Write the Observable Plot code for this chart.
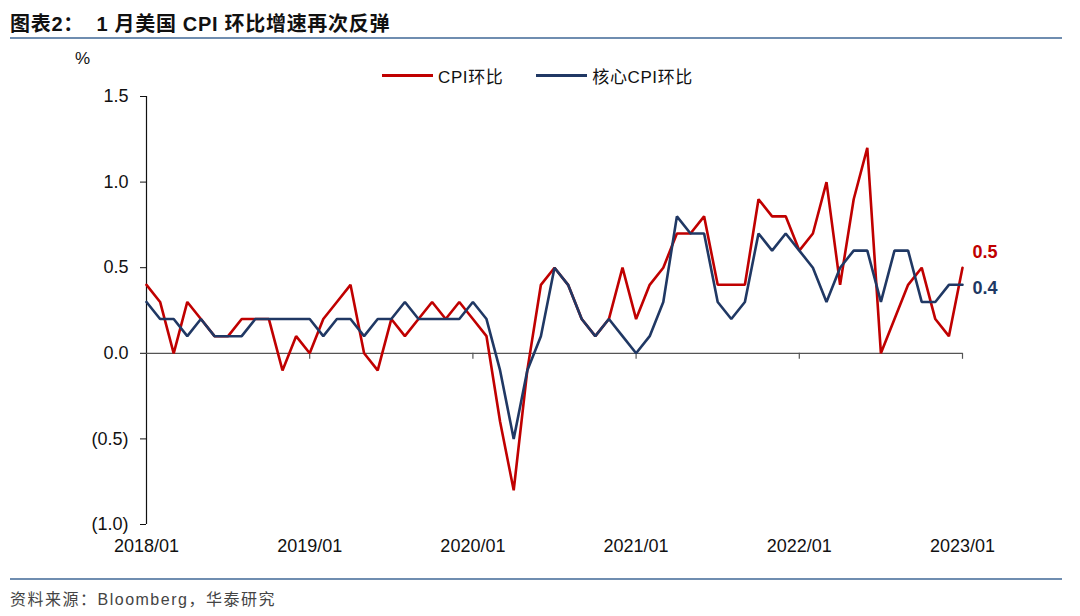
<!DOCTYPE html>
<html>
<head>
<meta charset="utf-8">
<script src="https://cdn.jsdelivr.net/npm/d3@7"></script>
<script src="https://cdn.jsdelivr.net/npm/@observablehq/plot@0.6"></script>
<style>
  html, body { margin: 0; padding: 0; background: #fff; }
  body { width: 1080px; height: 616px; position: relative; overflow: hidden;
         font-family: "Liberation Sans", Arial, "Noto Sans CJK SC", sans-serif; }
  #title { position: absolute; left: 10px; top: 8px; font-size: 20px; font-weight: bold; color: #111; letter-spacing: 0.7px;
           font-family: "Liberation Sans", "Noto Sans CJK SC", sans-serif; white-space: pre; }
  .rule { position: absolute; left: 10px; width: 1052px; height: 2px; background: #6f8db0; }
  #unit { position: absolute; left: 75px; top: 49px; font-size: 17px; color: #111; }
  #legend { position: absolute; top: 63px; left: 382px; font-size: 17px; color: #111; display: flex; align-items: center;
            letter-spacing: 0.6px; font-family: "Liberation Sans", "Noto Sans CJK SC", sans-serif; }
  .sw { display: inline-block; width: 51px; height: 3px; margin-right: 5px; }
  #caption { position: absolute; left: 10px; top: 586px; font-size: 16px; color: #444; letter-spacing: 1.5px;
             font-family: "Liberation Sans", "Noto Sans CJK SC", sans-serif; }
  #chart { position: absolute; left: 0; top: 0; }
</style>
</head>
<body>
<div id="chart"></div>
<div id="title">图表2：  1 月美国 CPI 环比增速再次反弹</div>
<div class="rule" style="top:37px"></div>
<div id="unit">%</div>
<div id="legend">
  <span class="sw" style="background:#c00000"></span><span>CPI环比</span>
  <span class="sw" style="background:#203864;margin-left:33px"></span><span>核心CPI环比</span>
</div>
<div class="rule" style="top:578px"></div>
<div id="caption">资料来源：Bloomberg，华泰研究</div>
<script>
// Monthly data, 2018/01 .. 2023/01
const cpiMoM = [
  0.4, 0.3, 0.0, 0.3, 0.2, 0.1, 0.1, 0.2, 0.2, 0.2, -0.1, 0.1,   // 2018
  0.0, 0.2, 0.3, 0.4, 0.0, -0.1, 0.2, 0.1, 0.2, 0.3, 0.2, 0.3,   // 2019
  0.2, 0.1, -0.4, -0.8, -0.1, 0.4, 0.5, 0.4, 0.2, 0.1, 0.2, 0.5, // 2020
  0.2, 0.4, 0.5, 0.7, 0.7, 0.8, 0.4, 0.4, 0.4, 0.9, 0.8, 0.8,    // 2021
  0.6, 0.7, 1.0, 0.4, 0.9, 1.2, 0.0, 0.2, 0.4, 0.5, 0.2, 0.1,    // 2022
  0.5                                                            // 2023
];
const coreMoM = [
  0.3, 0.2, 0.2, 0.1, 0.2, 0.1, 0.1, 0.1, 0.2, 0.2, 0.2, 0.2,    // 2018
  0.2, 0.1, 0.2, 0.2, 0.1, 0.2, 0.2, 0.3, 0.2, 0.2, 0.2, 0.2,    // 2019
  0.3, 0.2, -0.1, -0.5, -0.1, 0.1, 0.5, 0.4, 0.2, 0.1, 0.2, 0.1, // 2020
  0.0, 0.1, 0.3, 0.8, 0.7, 0.7, 0.3, 0.2, 0.3, 0.7, 0.6, 0.7,    // 2021
  0.6, 0.5, 0.3, 0.5, 0.6, 0.6, 0.3, 0.6, 0.6, 0.3, 0.3, 0.4,    // 2022
  0.4                                                            // 2023
];
const seriesNames = ["CPI环比", "核心CPI环比"];
const xTickLabels = ["2018/01", "2019/01", "2020/01", "2021/01", "2022/01", "2023/01"];
const yTicks = [-1.0, -0.5, 0.0, 0.5, 1.0, 1.5];

const colors = {"CPI环比": "#c00000", "核心CPI环比": "#203864"};
const months = cpiMoM.map((_, i) => i);
const rows = [];
months.forEach(i => {
  rows.push({i, v: cpiMoM[i], s: seriesNames[0]});
  rows.push({i, v: coreMoM[i], s: seriesNames[1]});
});
const yearIdx = xTickLabels.map((_, k) => k * 12);
const lastIdx = months.length - 1;
const endLabels = [
  {i: lastIdx, v: cpiMoM[lastIdx], s: seriesNames[0], dy: -21},
  {i: lastIdx, v: coreMoM[lastIdx], s: seriesNames[1], dy: -3}
];
const fmt = d => d < 0 ? `(${Math.abs(d).toFixed(1)})` : d.toFixed(1);

const W = 1080, H = 570;
const chart = Plot.plot({
  width: W, height: H,
  marginLeft: 146, marginRight: 118, marginTop: 96, marginBottom: 46,
  style: {fontFamily: '"Liberation Sans", Arial, sans-serif', fontSize: "18px", color: "#111", background: "transparent"},
  x: {type: "linear", domain: [0, lastIdx]},
  y: {domain: [-1, 1.5]},
  marks: [
    Plot.axisY({ticks: yTicks, tickFormat: fmt, tickSize: 6, tickPadding: 12, label: null, fontSize: 18, stroke: "#111"}),
    Plot.axisX({ticks: yearIdx, tickFormat: (d) => xTickLabels[d / 12], tickSize: 0, tickPadding: 15, label: null, fontSize: 18}),
    Plot.ruleX([0], {y1: -1, y2: 1.5, stroke: "#111", strokeWidth: 1.2}),
    Plot.ruleY([0], {x1: 0, x2: lastIdx, stroke: "#555", strokeWidth: 1.2}),
    Plot.ruleX(yearIdx.slice(1), {x: d => d, y1: 0, y2: 0, insetBottom: -6, stroke: "#555", strokeWidth: 1.2}),
    Plot.line(rows, {x: "i", y: "v", z: "s", stroke: d => colors[d.s], strokeWidth: 2.6, strokeLinejoin: "miter"}),
    Plot.text(endLabels, {x: "i", y: "v", text: d => d.v.toFixed(1), dx: 10, textAnchor: "start",
      fill: d => colors[d.s], fontWeight: "bold", fontSize: 18})
  ]
});
document.getElementById("chart").appendChild(chart);
// apply per-label vertical offsets
const texts = chart.querySelectorAll("g[aria-label='text'] text");
texts.forEach((t, k) => { t.setAttribute("dy", endLabels[k].dy + 6); t.setAttribute("dx", 0); });
</script>
</body>
</html>
